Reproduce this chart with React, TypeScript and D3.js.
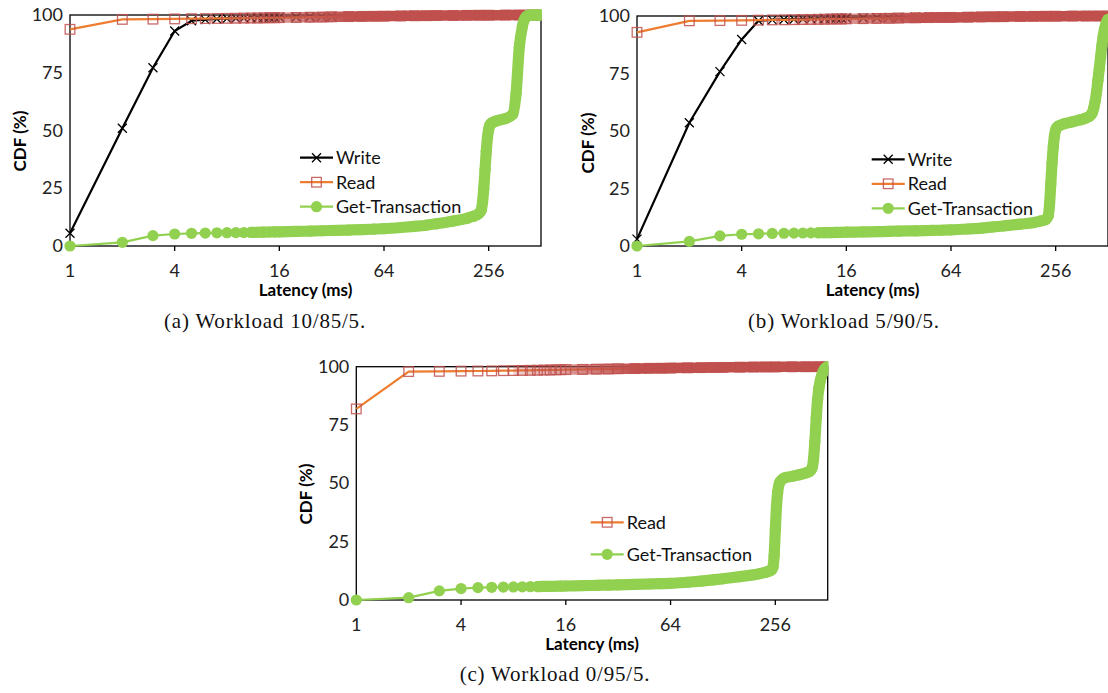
import React from 'react';
import * as d3 from 'd3';

// ---------- DATA ----------
const X_TICKS = [1, 4, 16, 64, 256];
const Y_TICKS = [0, 25, 50, 75, 100];

// latency grid (ms) for Write / Read series
const RW_LAT = [1, 2, 3, 4, 5, 6, 7, 8, 9, 10, 11, 12, 13, 14, 15, 16,
  20, 24, 28, 32, 40, 48, 56, 64, 80, 96, 112, 128, 160, 192, 224, 256, 320, 384, 448, 512];

const WRITE_A = [5.5, 51, 77.2, 93.1, 97.5, 98.0, 98.3, 98.5, 98.6, 98.7, 98.8, 98.85, 98.9, 98.95, 99.0, 99.05,
  99.15, 99.25, 99.3, 99.35, 99.45, 99.5, 99.55, 99.6, 99.7, 99.75, 99.8, 99.85, 99.9, 99.92, 99.94, 99.95, 99.97, 99.98, 99.99, 100];
const WRITE_B = [3.0, 53.6, 75.8, 89.8, 97.9, 98.3, 98.5, 98.6, 98.7, 98.8, 98.85, 98.9, 98.95, 99.0, 99.05, 99.1,
  99.15, 99.25, 99.3, 99.35, 99.45, 99.5, 99.55, 99.6, 99.7, 99.75, 99.8, 99.85, 99.9, 99.92, 99.94, 99.95, 99.97, 99.98, 99.99, 100];

const READ_A = [93.8, 98.1, 98.2, 98.3, 98.4, 98.45, 98.5, 98.55, 98.6, 98.65, 98.7, 98.7, 98.75, 98.8, 98.8, 98.85,
  98.95, 99.05, 99.1, 99.2, 99.3, 99.4, 99.45, 99.5, 99.6, 99.65, 99.7, 99.75, 99.8, 99.85, 99.9, 99.92, 99.95, 99.97, 99.99, 100];
const READ_B = [92.9, 97.9, 98.0, 98.1, 98.2, 98.3, 98.35, 98.4, 98.45, 98.5, 98.55, 98.6, 98.65, 98.7, 98.7, 98.75,
  98.85, 98.95, 99.0, 99.1, 99.2, 99.3, 99.35, 99.4, 99.5, 99.6, 99.65, 99.7, 99.8, 99.85, 99.9, 99.92, 99.95, 99.97, 99.99, 100];
const READ_C = [81.9, 97.9, 98.0, 98.1, 98.15, 98.2, 98.3, 98.35, 98.4, 98.45, 98.5, 98.55, 98.6, 98.65, 98.7, 98.75,
  98.85, 98.95, 99.0, 99.1, 99.2, 99.3, 99.35, 99.4, 99.5, 99.6, 99.65, 99.7, 99.8, 99.85, 99.9, 99.92, 99.95, 99.97, 99.99, 100];

// latency grid (ms) for Get-Transaction series
const GT_LAT = [1, 2, 3, 4, 5, 6, 7, 8, 9, 10, 11, 12, 13, 14, 15, 16,
  20, 24, 28, 32, 40, 48, 56, 64, 80, 96, 112, 128, 160, 192, 208, 224,
  232, 236, 240, 244, 248, 252, 256, 260, 264,
  272, 288, 320, 352, 368, 384,
  400, 408, 416, 424, 432, 440,
  448, 456, 464, 472, 480, 488, 496, 504, 512];

const GT_A = [0, 1.6, 4.5, 5.2, 5.5, 5.6, 5.7, 5.75, 5.8, 5.85, 5.9, 5.95, 6.0, 6.05, 6.1, 6.15,
  6.3, 6.45, 6.6, 6.7, 6.9, 7.1, 7.3, 7.5, 8.0, 8.5, 9.0, 9.6, 10.8, 12.0, 12.8, 14.0,
  15.5, 19, 25, 33, 41, 47, 50.5, 52.3, 53.0,
  53.6, 54.3, 55.2, 57.0, 66, 86,
  95, 97.5, 98.8, 99.5, 99.9, 100,
  100, 100, 100, 100, 100, 100, 100, 100, 100];
const GT_B = [0, 2.0, 4.4, 5.1, 5.3, 5.45, 5.55, 5.6, 5.65, 5.7, 5.75, 5.8, 5.85, 5.9, 5.95, 6.0,
  6.1, 6.25, 6.35, 6.5, 6.6, 6.75, 6.85, 7.0, 7.4, 7.8, 8.3, 8.7, 9.5, 10.2, 10.8, 11.5,
  13, 18, 27, 36, 43, 48, 50.5, 51.5, 52.0,
  52.5, 53.2, 54.0, 54.8, 55.2, 55.7,
  56.4, 57, 58, 60, 63, 67,
  72, 77, 82, 87, 91, 94, 96, 97.5, 98.5];
const GT_C = [0, 1.0, 3.9, 4.9, 5.3, 5.45, 5.55, 5.6, 5.65, 5.7, 5.75, 5.8, 5.85, 5.9, 5.95, 6.0,
  6.15, 6.3, 6.4, 6.5, 6.7, 6.85, 7.0, 7.1, 7.6, 8.1, 8.6, 9.1, 10.0, 10.8, 11.3, 11.8,
  12.2, 12.4, 12.6, 13, 14, 19, 30, 40, 46,
  50.5, 52.3, 53.0, 53.7, 54.1, 54.5,
  55.0, 55.5, 56.5, 60, 68, 78,
  86, 91, 94, 96, 97.5, 98.6, 99.3, 99.7, 100];

const SERIES_WRITE = 'Write';
const SERIES_READ = 'Read';
const SERIES_GT = 'Get-Transaction';
const X_TITLE = 'Latency (ms)';
const Y_TITLE = 'CDF (%)';
const CAPTIONS = ['(a) Workload 10/85/5.', '(b) Workload 5/90/5.', '(c) Workload 0/95/5.'];

// ---------- STYLE ----------
const FONT = "Lato, 'Open Sans', sans-serif";
const SERIF = "'Liberation Serif', 'DejaVu Serif', serif";
const C_WRITE = '#000000';
const C_READ_LINE = '#ED7D31';
const C_READ_MARK = '#C0504D';
const C_GT = '#92D050';

type Pts = { lat: number; v: number }[];
const zip = (lat: number[], v: number[]): Pts => lat.map((l, i) => ({ lat: l, v: v[i] }));

interface PanelCfg {
  id: string;
  left: number; right: number; top: number; bottom: number;
  write?: number[];
  read: number[];
  gt: number[];
  legendX: number; legendY: number; legendGap: number;
  yTitleX: number; yTitleY: number;
  caption: string; captionX: number; captionY: number;
}

const PANELS: PanelCfg[] = [
  { id: 'a', left: 70, right: 541, top: 15, bottom: 246, write: WRITE_A, read: READ_A, gt: GT_A,
    legendX: 300, legendY: 157.7, legendGap: 24.5, yTitleX: 20, yTitleY: 141,
    caption: CAPTIONS[0], captionX: 265, captionY: 328 },
  { id: 'b', left: 637, right: 1108, top: 16, bottom: 246, write: WRITE_B, read: READ_B, gt: GT_B,
    legendX: 871.7, legendY: 159.3, legendGap: 24.5, yTitleX: 588, yTitleY: 143,
    caption: CAPTIONS[1], captionX: 844, captionY: 328 },
  { id: 'c', left: 356.3, right: 827.7, top: 366.7, bottom: 600, read: READ_C, gt: GT_C,
    legendX: 590.7, legendY: 522.3, legendGap: 32, yTitleX: 306, yTitleY: 494,
    caption: CAPTIONS[2], captionX: 555, captionY: 681 },
];

const XMark = ({ x, y }: { x: number; y: number }) => (
  <path d={`M${x - 4.5},${y - 4.5}L${x + 4.5},${y + 4.5}M${x - 4.5},${y + 4.5}L${x + 4.5},${y - 4.5}`}
    stroke={C_WRITE} strokeWidth={1.3} fill="none" />
);
const SqMark = ({ x, y }: { x: number; y: number }) => (
  <rect x={x - 4.8} y={y - 4.8} width={9.6} height={9.6} fill="none" stroke={C_READ_MARK}
    strokeWidth={1.3} strokeOpacity={0.85} />
);
const CircMark = ({ x, y }: { x: number; y: number }) => <circle cx={x} cy={y} r={5.6} fill={C_GT} />;

function Panel({ cfg }: { cfg: PanelCfg }) {
  const x = d3.scaleLog().base(2).domain([1, 512]).range([cfg.left, cfg.right]);
  const y = d3.scaleLinear().domain([0, 100]).range([cfg.bottom, cfg.top]);
  const line = d3.line<{ lat: number; v: number }>().x(d => x(d.lat)).y(d => y(d.v));
  const smooth = d3.line<{ lat: number; v: number }>().x(d => x(d.lat)).y(d => y(d.v)).curve(d3.curveMonotoneX);

  const write = cfg.write ? zip(RW_LAT, cfg.write) : null;
  const read = zip(RW_LAT, cfg.read);
  const gt = zip(GT_LAT, cfg.gt);
  const clipId = `clip-${cfg.id}`;
  const gradId = `rg-${cfg.id}`;

  const legendItems = [
    ...(write ? [SERIES_WRITE] : []), SERIES_READ, SERIES_GT,
  ];

  return (
    <g>
      <defs>
        <clipPath id={clipId}>
          <rect x={cfg.left - 20} y={cfg.top - 20} width={cfg.right - cfg.left + 20.5} height={cfg.bottom - cfg.top + 40} />
        </clipPath>
        <linearGradient id={gradId} gradientUnits="userSpaceOnUse" x1={x(8)} x2={x(40)} y1={0} y2={0}>
          <stop offset="0" stopColor={C_READ_MARK} stopOpacity={0.25} />
          <stop offset="1" stopColor={C_READ_MARK} stopOpacity={1} />
        </linearGradient>
      </defs>

      {/* plot border */}
      <rect x={cfg.left} y={cfg.top} width={cfg.right - cfg.left} height={cfg.bottom - cfg.top}
        fill="none" stroke="#000" strokeWidth={1.3} />
      {/* x ticks */}
      {X_TICKS.map(t => (
        <g key={t}>
          <line x1={x(t)} x2={x(t)} y1={cfg.bottom} y2={cfg.bottom + 5} stroke="#000" strokeWidth={1.3} />
          <text x={x(t)} y={cfg.bottom + 31} textAnchor="middle" fontFamily={FONT} fontSize={18} fill="#222">{t}</text>
        </g>
      ))}
      {Y_TICKS.map(t => (
        <text key={t} x={cfg.left - 7} y={y(t) + 6} textAnchor="end" fontFamily={FONT} fontSize={18} fill="#222">{t}</text>
      ))}
      <text x={(cfg.left + cfg.right) / 2} y={cfg.bottom + 50} textAnchor="middle" fontFamily={FONT}
        fontWeight="bold" fontSize={17} fill="#000">{X_TITLE}</text>
      <text transform={`translate(${cfg.yTitleX},${cfg.yTitleY}) rotate(-90)`} textAnchor="middle" dy="0.35em"
        fontFamily={FONT} fontWeight="bold" fontSize={17} fill="#000">{Y_TITLE}</text>

      <g clipPath={`url(#${clipId})`}>
        {write && (
          <g>
            <path d={line(write) || ''} fill="none" stroke={C_WRITE} strokeWidth={2.2} />
            {write.map((d, i) => <XMark key={i} x={x(d.lat)} y={y(d.v)} />)}
          </g>
        )}
        <g>
          <path d={line(read) || ''} fill="none" stroke={C_READ_LINE} strokeWidth={2.2} />
          <path d={smooth(read.filter(d => d.lat >= 8)) || ''} fill="none" stroke={`url(#${gradId})`}
            strokeWidth={10.5} strokeLinecap="butt" />
          {read.map((d, i) => <SqMark key={i} x={x(d.lat)} y={y(d.v)} />)}
        </g>
        <g>
          <path d={line(gt) || ''} fill="none" stroke={C_GT} strokeWidth={2.2} />
          <path d={smooth(gt.filter(d => d.lat >= 11)) || ''} fill="none" stroke={C_GT}
            strokeWidth={11.2} strokeLinecap="round" strokeLinejoin="round" />
          {gt.map((d, i) => <CircMark key={i} x={x(d.lat)} y={y(d.v)} />)}
        </g>
      </g>

      {/* legend */}
      {legendItems.map((name, i) => {
        const ly = cfg.legendY + i * cfg.legendGap;
        const lx0 = cfg.legendX, lx1 = cfg.legendX + 33, mx = (lx0 + lx1) / 2;
        const col = name === SERIES_WRITE ? C_WRITE : name === SERIES_READ ? C_READ_LINE : C_GT;
        return (
          <g key={name}>
            <line x1={lx0} x2={lx1} y1={ly} y2={ly} stroke={col} strokeWidth={2.2} />
            {name === SERIES_WRITE && <XMark x={mx} y={ly} />}
            {name === SERIES_READ && <SqMark x={mx} y={ly} />}
            {name === SERIES_GT && <CircMark x={mx} y={ly} />}
            <text x={lx1 + 3} y={ly + 6.5} fontFamily={FONT} fontSize={18} fill="#111">{name}</text>
          </g>
        );
      })}

      <text x={cfg.captionX} y={cfg.captionY} textAnchor="middle" fontFamily={SERIF} fontSize={21}
        letterSpacing={0.8} fill="#111">
        {cfg.caption}
      </text>
    </g>
  );
}

export default function App() {
  return (
    <svg width={1108} height={693} style={{ position: 'absolute', left: 0, top: 0, background: '#fff' }}>
      <rect x={0} y={0} width={1108} height={693} fill="#fff" />
      {PANELS.map(p => <Panel key={p.id} cfg={p} />)}
    </svg>
  );
}
